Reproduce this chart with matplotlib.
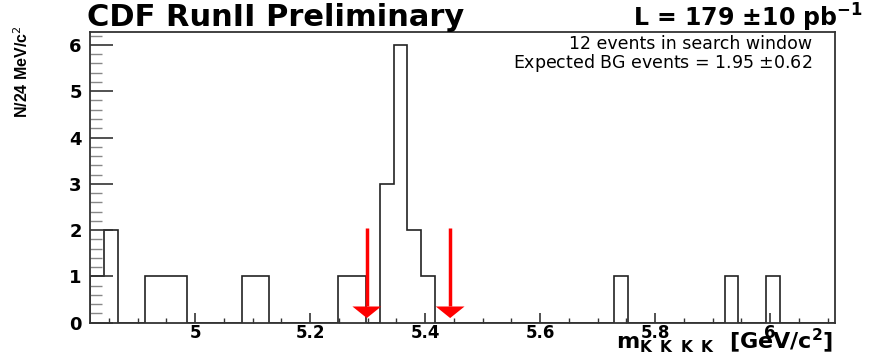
import numpy as np
import matplotlib
matplotlib.use("Agg")
import matplotlib.pyplot as plt
from matplotlib.ticker import MultipleLocator, FixedLocator

# histogram: 24 MeV bins starting at 4.817 GeV
x_low = 4.817
bin_width = 0.024
counts = [1, 2, 0, 0, 1, 1, 1, 0, 0, 0,
          0, 1, 1, 0, 0, 0, 0, 0, 1, 1,
          0, 3, 6, 2, 1, 0, 0, 0, 0, 0,
          0, 0, 0, 0, 0, 0, 0, 0, 1, 0,
          0, 0, 0, 0, 0, 0, 1, 0, 0, 1,
          0, 0, 0, 0]

# search window arrows
arrow_x = [5.2985, 5.4435]
arrow_top = 2.05
arrow_tip = 0.1

x_ticks = [5.0, 5.2, 5.4, 5.6, 5.8, 6.0]
x_ticklabels = ["5", "5.2", "5.4", "5.6", "5.8", "6"]
y_ticks = [0, 1, 2, 3, 4, 5, 6]

plt.rcParams['font.family'] = ['DejaVu Sans']
plt.rcParams['mathtext.fontset'] = 'dejavusans'

edges = x_low + bin_width * np.arange(len(counts) + 1)

fig = plt.figure(figsize=(8.73, 3.57), dpi=100)
ax = fig.add_axes([0.1031, 0.0961, 0.8534, 0.8143])

ax.stairs(counts, edges, baseline=0, color='#222222', lw=1.2)

for xa in arrow_x:
    head_h = 0.25
    half_w = 0.025
    ax.plot([xa, xa], [arrow_top, arrow_tip + head_h], color='red', lw=2.5,
            solid_capstyle='butt')
    ax.fill([xa - half_w, xa + half_w, xa], [arrow_tip + head_h, arrow_tip + head_h, arrow_tip],
            color='red', lw=0)

ax.set_xlim(edges[0], edges[-1])
ax.set_ylim(0, 6.28)

ax.xaxis.set_major_locator(FixedLocator(x_ticks))
ax.set_xticklabels(x_ticklabels, fontweight='bold', fontsize=12)
ax.xaxis.set_minor_locator(MultipleLocator(0.05))
ax.yaxis.set_major_locator(FixedLocator(y_ticks))
ax.set_yticklabels([str(v) for v in y_ticks], fontweight='bold', fontsize=13)
ax.yaxis.set_minor_locator(MultipleLocator(0.2))

ax.tick_params(axis='x', which='major', direction='in', length=7, width=1.2, color='#333333', pad=1)
ax.tick_params(axis='x', which='minor', direction='in', length=3.6, width=1.0, color='#333333')
ax.tick_params(axis='y', which='major', direction='in', length=16.5, width=1.2, color='#333333', pad=6)
ax.tick_params(axis='y', which='minor', direction='in', length=8.6, width=1.0, color='#888888')
for sp in ax.spines.values():
    sp.set_linewidth(1.3)
    sp.set_color('#333333')

fig.text(0.100, 0.952, "CDF RunII Preliminary", fontsize=22, fontweight='bold',
         ha='left', va='center')
fig.text(0.988, 0.950, r"L = 179 $\mathbf{\pm}$10 pb$^{\mathbf{-1}}$", fontsize=17, fontweight='bold',
         ha='right', va='center')

ax.text(0.969, 0.958, "12 events in search window", transform=ax.transAxes,
        ha='right', va='center', fontsize=12.5)
ax.text(0.969, 0.895, r"Expected BG events = 1.95 $\pm$0.62", transform=ax.transAxes,
        ha='right', va='center', fontsize=12.5)

fig.text(0.025, 0.80, r"N/24 MeV/c$^2$", rotation=90, ha='center', va='center',
         fontsize=11.5, fontweight='bold',
         family=['DejaVu Sans Condensed', 'Liberation Sans Narrow', 'Liberation Sans'])

fig.text(0.954, 0.006,
         r"m$_{\mathbf{K}\;\;\mathbf{K}\;\;\mathbf{K}\;\;\mathbf{K}}$  [GeV/c$^{\mathbf{2}}$]",
         ha='right', va='bottom', fontsize=16, fontweight='bold')

fig.savefig("out.png", dpi=100)
